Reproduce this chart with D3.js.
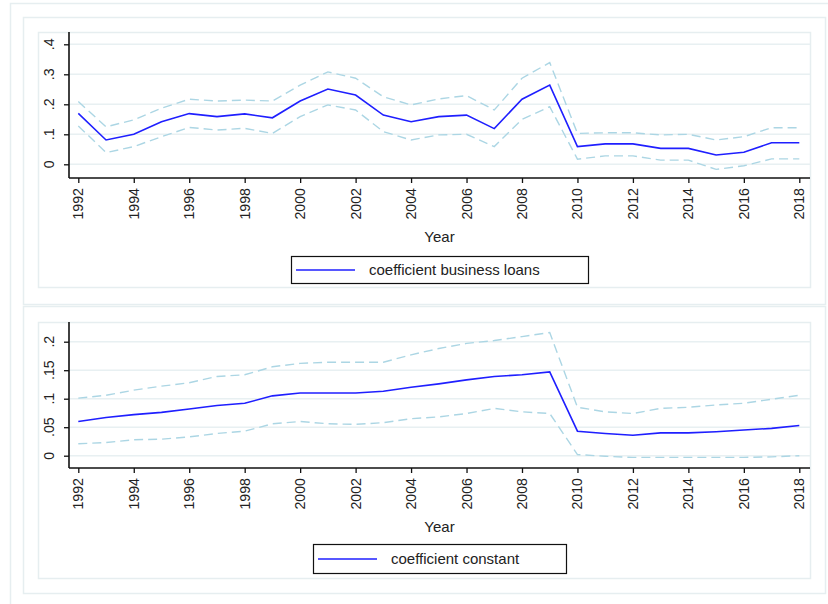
<!DOCTYPE html>
<html>
<head>
<meta charset="utf-8">
<script src="https://cdn.jsdelivr.net/npm/d3@7"></script>
<style>
  body { margin: 0; background: #fff; }
  svg { display: block; font-family: "Liberation Sans", Arial, sans-serif; }
</style>
</head>
<body>
<script>
const width = 828;
const height = 604;

// years 1992..2018
const years = d3.range(1992, 2019);

// coefficient business loans (estimate + 95% CI)
const loansCoef = [0.170, 0.081, 0.100, 0.142, 0.169, 0.159, 0.168, 0.155, 0.211, 0.251, 0.231, 0.164, 0.142,
  0.159, 0.164, 0.119, 0.217, 0.264, 0.059, 0.068, 0.068, 0.053, 0.053, 0.031, 0.040, 0.072, 0.072];
const loansUpper = [0.209, 0.125, 0.148, 0.187, 0.217, 0.211, 0.214, 0.211, 0.264, 0.308, 0.287, 0.225, 0.198,
  0.218, 0.229, 0.181, 0.287, 0.339, 0.103, 0.105, 0.105, 0.098, 0.100, 0.081, 0.092, 0.122, 0.122];
const loansLower = [0.128, 0.039, 0.059, 0.092, 0.123, 0.114, 0.120, 0.103, 0.159, 0.198, 0.181, 0.109, 0.081,
  0.098, 0.100, 0.059, 0.150, 0.192, 0.017, 0.028, 0.028, 0.014, 0.014, -0.017, -0.005, 0.018, 0.018];

// coefficient constant (estimate + 95% CI)
const constCoef = [0.060, 0.067, 0.072, 0.076, 0.082, 0.088, 0.092, 0.105, 0.110, 0.110, 0.110, 0.113, 0.120,
  0.126, 0.133, 0.139, 0.142, 0.147, 0.043, 0.039, 0.036, 0.040, 0.040, 0.042, 0.045, 0.048, 0.053];
const constUpper = [0.101, 0.106, 0.115, 0.122, 0.128, 0.139, 0.142, 0.156, 0.162, 0.164, 0.164, 0.164, 0.177,
  0.188, 0.197, 0.202, 0.209, 0.216, 0.085, 0.077, 0.074, 0.083, 0.085, 0.089, 0.092, 0.099, 0.106];
const constLower = [0.021, 0.023, 0.028, 0.029, 0.033, 0.039, 0.043, 0.056, 0.060, 0.056, 0.055, 0.058, 0.065,
  0.068, 0.074, 0.083, 0.077, 0.074, 0.002, -0.001, -0.003, -0.003, -0.003, -0.003, -0.003, -0.002, 0.000];

const xTicks = d3.range(1992, 2019, 2);
const loansTicks = [0, 0.1, 0.2, 0.3, 0.4];
const loansTickLabels = ["0", ".1", ".2", ".3", ".4"];
const constTicks = [0, 0.05, 0.1, 0.15, 0.2];
const constTickLabels = ["0", ".05", ".1", ".15", ".2"];

const frameColor = "#e6eef0";
const gridColor = "#e8f0f2";
const mainColor = "#1f1fff";
const ciColor = "#acd6e4";

const svg = d3.select("body").append("svg")
  .attr("width", width)
  .attr("height", height);

// outer frame
svg.append("rect")
  .attr("x", 10.5).attr("y", 3.5)
  .attr("width", 830).attr("height", 620)
  .attr("fill", "none").attr("stroke", frameColor).attr("stroke-width", 1.5);

const x = d3.scaleLinear().domain([1992, 2018]).range([78.3, 799.3]);

const panels = [
  {
    top: 17, bottom: 304, plotTop: 32, plotBottom: 287, axisY: 178,
    yDomain: [0, 0.4], yRange: [164.3, 44.3],
    ticks: loansTicks, tickLabels: loansTickLabels,
    coef: loansCoef, upper: loansUpper, lower: loansLower,
    legend: "coefficient business loans", legendBox: [291, 256, 297, 27]
  },
  {
    top: 306, bottom: 593, plotTop: 322, plotBottom: 578, axisY: 468,
    yDomain: [0, 0.2], yRange: [455.7, 341.7],
    ticks: constTicks, tickLabels: constTickLabels,
    coef: constCoef, upper: constUpper, lower: constLower,
    legend: "coefficient constant", legendBox: [313, 544, 253, 29]
  }
];

panels.forEach(p => {
  const g = svg.append("g");

  // panel border and plot region border
  g.append("rect")
    .attr("x", 23.5).attr("y", p.top + 0.5)
    .attr("width", 802).attr("height", p.bottom - p.top)
    .attr("fill", "none").attr("stroke", frameColor).attr("stroke-width", 1.5);
  g.append("rect")
    .attr("x", 38.5).attr("y", p.plotTop + 0.5)
    .attr("width", 772).attr("height", p.plotBottom - p.plotTop)
    .attr("fill", "none").attr("stroke", frameColor).attr("stroke-width", 1.5);

  const y = d3.scaleLinear().domain(p.yDomain).range(p.yRange);

  // gridlines
  g.append("g").selectAll("line")
    .data(p.ticks)
    .join("line")
    .attr("x1", 69).attr("x2", 810)
    .attr("y1", d => y(d)).attr("y2", d => y(d))
    .attr("stroke", gridColor).attr("stroke-width", 1.5);

  // y axis
  const yAxis = g.append("g")
    .attr("transform", "translate(69,0)")
    .call(d3.axisLeft(y).tickValues(p.ticks).tickSize(5).tickFormat(""));
  yAxis.select(".domain").attr("d", `M0,${p.plotTop}V${p.axisY}`).attr("stroke", "#111").attr("stroke-width", 1.6);
  yAxis.selectAll(".tick line").attr("stroke", "#111").attr("stroke-width", 1.3);
  g.append("g").selectAll("text")
    .data(p.ticks)
    .join("text")
    .attr("transform", d => `translate(49,${y(d)}) rotate(-90)`)
    .attr("text-anchor", "middle")
    .attr("dy", "0.35em")
    .attr("font-size", 14.2)
    .attr("fill", "#222")
    .text((d, i) => p.tickLabels[i]);

  // x axis
  const xAxis = g.append("g")
    .attr("transform", `translate(0,${p.axisY})`)
    .call(d3.axisBottom(x).tickValues(xTicks).tickSize(5).tickFormat(""));
  xAxis.select(".domain").attr("d", "M69,0H810").attr("stroke", "#111").attr("stroke-width", 1.6);
  xAxis.selectAll(".tick line").attr("stroke", "#111").attr("stroke-width", 1.3);
  g.append("g").selectAll("text")
    .data(xTicks)
    .join("text")
    .attr("transform", d => `translate(${x(d)},${p.axisY + 10}) rotate(-90)`)
    .attr("text-anchor", "end")
    .attr("dy", "0.35em")
    .attr("font-size", 14.2)
    .attr("fill", "#222")
    .text(d => d);

  g.append("text")
    .attr("x", 439.5).attr("y", p.axisY + 64)
    .attr("text-anchor", "middle")
    .attr("font-size", 15)
    .attr("fill", "#222")
    .text("Year");

  // series
  const line = d3.line().x((d, i) => x(years[i])).y(d => y(d));
  [p.upper, p.lower].forEach(s => {
    g.append("path")
      .datum(s)
      .attr("d", line)
      .attr("fill", "none")
      .attr("stroke", ciColor)
      .attr("stroke-width", 1.4)
      .attr("stroke-dasharray", "9,5");
  });
  g.append("path")
    .datum(p.coef)
    .attr("d", line)
    .attr("fill", "none")
    .attr("stroke", mainColor)
    .attr("stroke-width", 1.6);

  // legend
  const [lx, ly, lw, lh] = p.legendBox;
  g.append("rect")
    .attr("x", lx + 0.5).attr("y", ly + 0.5)
    .attr("width", lw).attr("height", lh)
    .attr("fill", "#fff").attr("stroke", "#111").attr("stroke-width", 1.2);
  g.append("line")
    .attr("x1", lx + 5).attr("x2", lx + 64)
    .attr("y1", ly + lh / 2 + 0.5).attr("y2", ly + lh / 2 + 0.5)
    .attr("stroke", mainColor).attr("stroke-width", 1.6);
  g.append("text")
    .attr("x", lx + 78).attr("y", ly + lh / 2)
    .attr("dy", "0.35em")
    .attr("font-size", 15)
    .attr("fill", "#222")
    .text(p.legend);
});
</script>
</body>
</html>
